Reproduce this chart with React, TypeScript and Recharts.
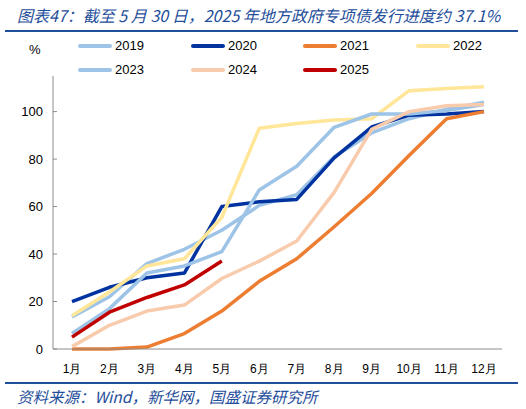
import { LineChart, Line, XAxis, YAxis } from 'recharts';

const months = ['1月', '2月', '3月', '4月', '5月', '6月', '7月', '8月', '9月', '10月', '11月', '12月'];

const s2019 = [13.5, 22, 36, 42, 50, 60.5, 65, 81, 91, 97, 101, 104];
const s2020 = [20, 26, 30, 32, 60, 62, 63, 80.5, 93.5, 98.5, 99, 100];
const s2021 = [0, 0, 0.8, 6.5, 16, 28.5, 38, 51.5, 65.5, 81.5, 97, 100];
const s2022 = [14, 24, 35, 38, 55.5, 93, 95, 96.5, 97, 108.8, 109.7, 110.5];
const s2023 = [6.5, 17, 32, 35, 41, 67, 77, 93.4, 99, 99, 100.5, 103];
const s2024 = [1, 10, 16, 18.5, 29.7, 37, 45.5, 66, 92.5, 100, 102.5, 103];
const s2025 = [5, 15.5, 21.7, 27, 37.1];

const series = [
  { key: 'y2019', name: '2019', values: s2019, color: '#9DC3E6' },
  { key: 'y2020', name: '2020', values: s2020, color: '#0033A0' },
  { key: 'y2021', name: '2021', values: s2021, color: '#ED7D31' },
  { key: 'y2022', name: '2022', values: s2022, color: '#FFE699' },
  { key: 'y2023', name: '2023', values: s2023, color: '#9DC3E6' },
  { key: 'y2024', name: '2024', values: s2024, color: '#F8CBAD' },
  { key: 'y2025', name: '2025', values: s2025, color: '#C00000' },
];

const data = months.map((m, i) => {
  const row: Record<string, string | number | undefined> = { month: m };
  series.forEach((s) => {
    row[s.key] = s.values[i];
  });
  return row;
});

const blue = '#1F4E9A';
const legendCols = [78, 191, 303, 416];

const App = () => {
  return (
    <div
      style={{
        position: 'absolute',
        left: 0,
        top: 0,
        width: 526,
        height: 409,
        background: '#fff',
        fontFamily: '"Liberation Sans", Arial, sans-serif',
      }}
    >
      <div
        style={{
          position: 'absolute',
          left: 17,
          top: 3,
          fontSize: 16,
          fontStyle: 'italic',
          color: blue,
          fontFamily: '"Noto Sans CJK SC", sans-serif',
          whiteSpace: 'nowrap',
        }}
      >
        图表47：截至 5 月 30 日，2025 年地方政府专项债发行进度约 37.1%
      </div>
      <div style={{ position: 'absolute', left: 5, top: 30, width: 513, height: 2, background: blue }} />

      <div style={{ position: 'absolute', left: 29, top: 42, fontSize: 13, color: '#000' }}>%</div>

      {series.map((s, i) => {
        const col = i % 4;
        const row = Math.floor(i / 4);
        const top = 46 + row * 24;
        return (
          <div key={s.key}>
            <div
              style={{
                position: 'absolute',
                left: legendCols[col],
                top: top - 2,
                width: 34,
                height: 4,
                borderRadius: 2,
                background: s.color,
              }}
            />
            <div
              style={{
                position: 'absolute',
                left: legendCols[col] + 37,
                top: top - 8,
                fontSize: 13,
                color: '#000',
              }}
            >
              {s.name}
            </div>
          </div>
        );
      })}

      <div style={{ position: 'absolute', left: 0, top: 0 }}>
        <LineChart
          width={526}
          height={409}
          data={data}
          margin={{ top: 76, right: 24, bottom: 30, left: 0 }}
        >
          <XAxis
            dataKey="month"
            height={30}
            padding={{ left: 19, right: 18 }}
            tickLine={false}
            axisLine={{ stroke: '#8c8c8c' }}
            tick={{ fill: '#000', fontSize: 12 }}
            tickMargin={9}
            interval={0}
          />
          <YAxis
            width={53}
            domain={[0, 115]}
            ticks={[0, 20, 40, 60, 80, 100]}
            axisLine={{ stroke: '#8c8c8c' }}
            tickLine={{ stroke: '#8c8c8c' }}
            tickSize={-4}
            tickMargin={14}
            tick={{ fill: '#000', fontSize: 13 }}
          />
          {series.map((s) => (
            <Line
              key={s.key}
              dataKey={s.key}
              stroke={s.color}
              strokeWidth={3.5}
              dot={false}
              activeDot={false}
              isAnimationActive={false}
              strokeLinejoin="round"
            />
          ))}
        </LineChart>
      </div>

      <div style={{ position: 'absolute', left: 5, top: 382, width: 513, height: 1.5, background: blue }} />
      <div
        style={{
          position: 'absolute',
          left: 17,
          top: 385,
          fontSize: 15.5,
          fontStyle: 'italic',
          color: blue,
          fontFamily: '"Noto Sans CJK SC", sans-serif',
          whiteSpace: 'nowrap',
        }}
      >
        资料来源：Wind，新华网，国盛证券研究所
      </div>
    </div>
  );
};

export default App;
